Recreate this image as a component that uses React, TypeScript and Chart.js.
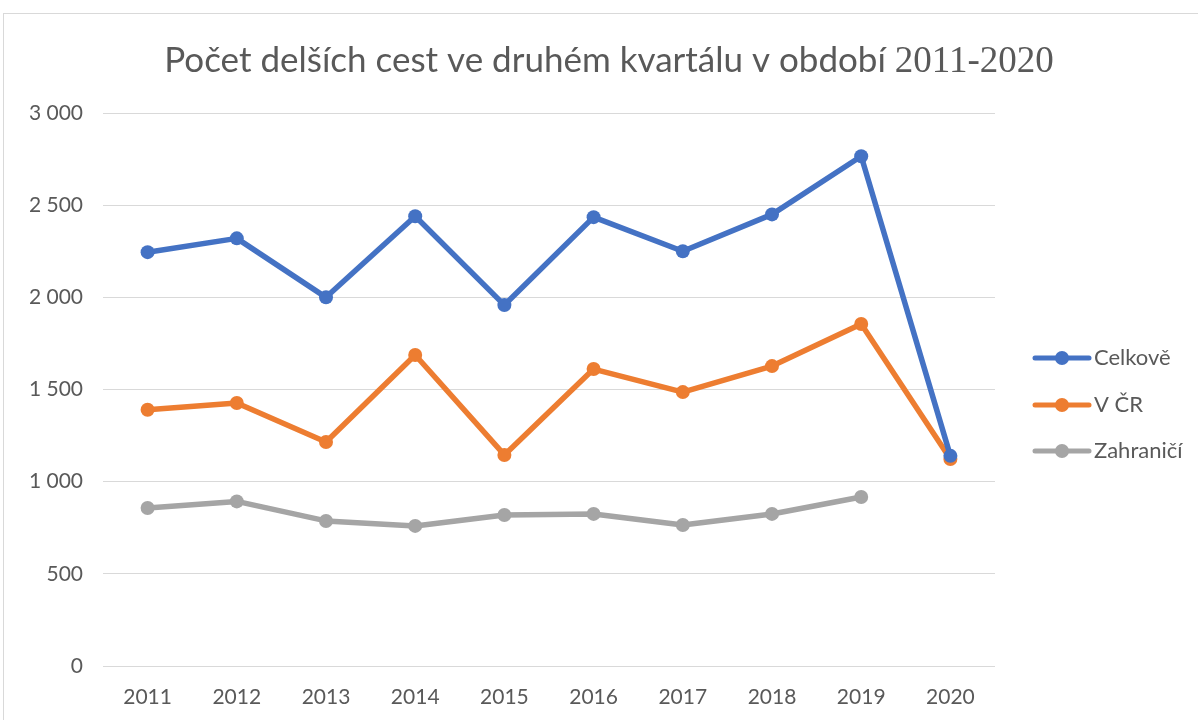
import React, { useEffect, useRef } from "react";
import { Chart, registerables } from "chart.js";

Chart.register(...registerables);

const years = ["2011", "2012", "2013", "2014", "2015", "2016", "2017", "2018", "2019", "2020"];
const celkove = [2245, 2320, 2000, 2440, 1958, 2435, 2250, 2450, 2765, 1140];
const vCR = [1390, 1427, 1215, 1687, 1145, 1611, 1486, 1627, 1855, 1123];
const zahranici = [857, 893, 787, 760, 819, 825, 765, 825, 917, null];
const seriesNames = ["Celkově", "V ČR", "Zahraničí"];
const seriesColors = ["#4472C4", "#ED7D31", "#A5A5A5"];
const titleSans = "Počet delších cest ve druhém kvartálu v období ";
const titleSerif = "2011-2020";

const SANS = "Lato, 'Open Sans', sans-serif";
const SERIF = "'Liberation Serif', 'DejaVu Serif', serif";
const TEXT = "#595959";

const frameAndTitle = {
  id: "frameAndTitle",
  beforeDraw(chart: any) {
    const ctx = chart.ctx;
    ctx.save();
    ctx.fillStyle = "#ffffff";
    ctx.fillRect(0, 0, chart.width, chart.height);
    ctx.strokeStyle = "#d9d9d9";
    ctx.lineWidth = 1;
    ctx.strokeRect(3.5, 13.5, chart.width + 10, chart.height + 10);
    ctx.restore();
  },
  afterDraw(chart: any) {
    const ctx = chart.ctx;
    ctx.save();
    ctx.fillStyle = TEXT;
    ctx.textBaseline = "alphabetic";
    const f1 = "35px " + SANS;
    const f2 = "37px " + SERIF;
    ctx.font = f1;
    const w1 = ctx.measureText(titleSans).width;
    ctx.font = f2;
    const w2 = ctx.measureText(titleSerif).width;
    const cx = 609;
    let x = cx - (w1 + w2) / 2;
    const y = 72;
    ctx.font = f1;
    ctx.textAlign = "left";
    ctx.fillText(titleSans, x, y);
    ctx.font = f2;
    ctx.fillText(titleSerif, x + w1, y);

    // legend
    const lx = 1035;
    const ly = [358, 405, 451];
    for (let i = 0; i < seriesNames.length; i++) {
      const yy = ly[i];
      ctx.strokeStyle = seriesColors[i];
      ctx.lineWidth = 5;
      ctx.lineCap = "round";
      ctx.beginPath();
      ctx.moveTo(lx, yy);
      ctx.lineTo(lx + 54, yy);
      ctx.stroke();
      ctx.fillStyle = seriesColors[i];
      ctx.beginPath();
      ctx.arc(lx + 27, yy, 7, 0, Math.PI * 2);
      ctx.fill();
      ctx.fillStyle = TEXT;
      ctx.font = "22px " + SANS;
      ctx.textBaseline = "middle";
      ctx.fillText(seriesNames[i], lx + 59, yy);
    }
    ctx.restore();
  },
};

export default function App() {
  const ref = useRef<HTMLCanvasElement>(null);
  useEffect(() => {
    if (!ref.current) return;
    const datasets = [celkove, vCR, zahranici].map((d, i) => ({
      label: seriesNames[i],
      data: d,
      borderColor: seriesColors[i],
      backgroundColor: seriesColors[i],
      borderWidth: 5.5,
      pointRadius: 7,
      pointHoverRadius: 7,
      pointBorderWidth: 0,
      tension: 0,
      spanGaps: false,
      borderJoinStyle: "round" as const,
    }));
    const chart = new Chart(ref.current, {
      type: "line",
      data: { labels: years, datasets },
      plugins: [frameAndTitle],
      options: {
        animation: false,
        responsive: false,
        maintainAspectRatio: false,
        layout: { padding: { top: 113, right: 203, left: 0, bottom: 0 } },
        plugins: {
          legend: { display: false },
          title: { display: false },
          tooltip: { enabled: false },
        },
        scales: {
          x: {
            offset: true,
            grid: { display: false, drawTicks: false },
            border: { display: false },
            ticks: { color: TEXT, font: { family: SANS, size: 21 }, padding: 19, maxRotation: 0 },
            afterFit: (s: any) => { s.height = 54; },
          },
          y: {
            min: 0,
            max: 3000,
            grid: { color: "#d9d9d9", lineWidth: 1, drawTicks: false },
            border: { display: false },
            ticks: {
              stepSize: 500,
              color: TEXT,
              font: { family: SANS, size: 21 },
              padding: 20,
              callback: (v: any) => {
                const n = Number(v);
                return n >= 1000 ? Math.floor(n / 1000) + " " + String(n % 1000).padStart(3, "0") : String(n);
              },
            },
            afterFit: (s: any) => { s.width = 103; },
          },
        },
      },
    });
    return () => chart.destroy();
  }, []);
  return (
    <div style={{ position: "fixed", left: 0, top: 0, width: 1198, height: 720, background: "#fff" }}>
      <canvas ref={ref} width={1198} height={720} style={{ display: "block" }} />
    </div>
  );
}
